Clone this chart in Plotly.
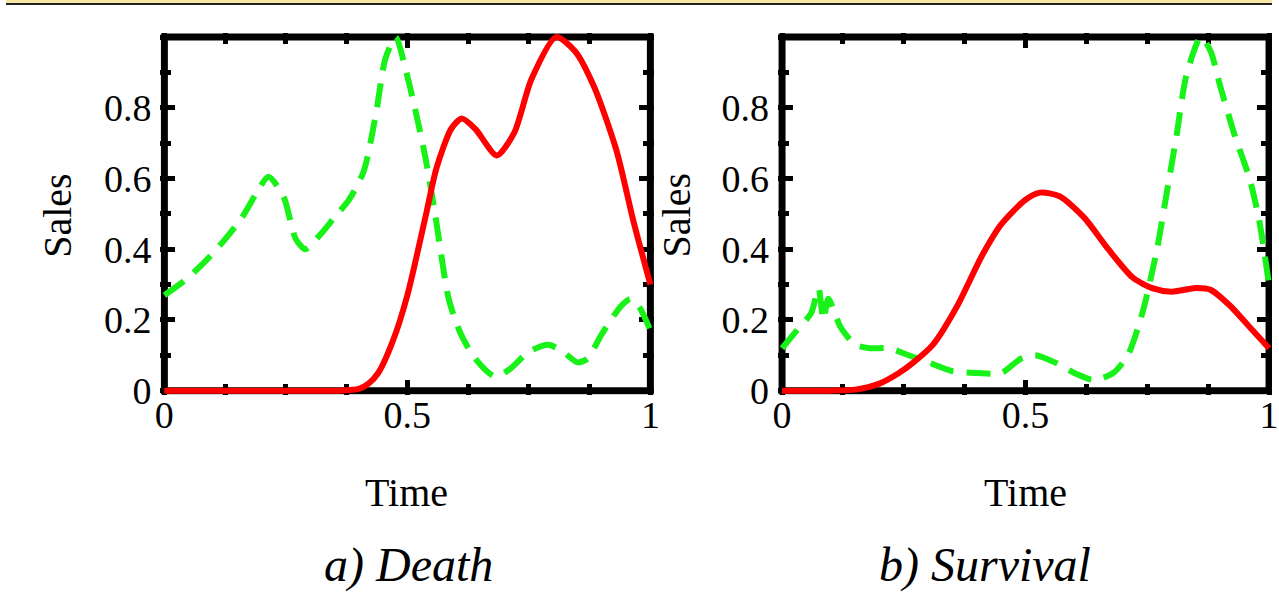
import plotly.graph_objects as go

# ---------------- data ----------------
death_red_x = [0, 0.1, 0.2, 0.3, 0.36, 0.40, 0.42, 0.44, 0.47, 0.50, 0.537, 0.56, 0.59, 0.612,
               0.64, 0.684, 0.72, 0.755, 0.806, 0.845, 0.884, 0.93, 0.965, 1.0]
death_red_y = [0, 0, 0, 0, 0, 0.005, 0.02, 0.05, 0.14, 0.27, 0.49, 0.63, 0.74, 0.77,
               0.74, 0.665, 0.73, 0.88, 1.0, 0.96, 0.86, 0.68, 0.48, 0.30]

death_green_x = [0, 0.04, 0.08, 0.12, 0.16, 0.19, 0.214, 0.245, 0.27, 0.29, 0.32, 0.35, 0.38,
                 0.41, 0.435, 0.455, 0.476, 0.497, 0.517, 0.537, 0.557, 0.585, 0.61, 0.64,
                 0.68, 0.71, 0.75, 0.79, 0.82, 0.85, 0.87, 0.90, 0.94, 0.96, 0.98, 1.0]
death_green_y = [0.27, 0.31, 0.36, 0.42, 0.49, 0.56, 0.605, 0.55, 0.43, 0.40, 0.44, 0.49, 0.54,
                 0.62, 0.78, 0.94, 1.0, 0.905, 0.79, 0.66, 0.50, 0.26, 0.16, 0.09,
                 0.04, 0.06, 0.11, 0.13, 0.11, 0.08, 0.09, 0.16, 0.24, 0.26, 0.23, 0.17]

surv_red_x = [0, 0.1, 0.15, 0.2, 0.24, 0.27, 0.31, 0.36, 0.41, 0.45, 0.5, 0.53, 0.57, 0.62,
              0.67, 0.72, 0.76, 0.8, 0.85, 0.88, 0.92, 0.96, 1.0]
surv_red_y = [0, 0, 0.003, 0.02, 0.05, 0.08, 0.13, 0.24, 0.38, 0.47, 0.54, 0.56, 0.55, 0.49,
              0.40, 0.32, 0.29, 0.28, 0.29, 0.285, 0.24, 0.18, 0.12]

surv_green_x = [0, 0.03, 0.06, 0.075, 0.085, 0.095, 0.12, 0.15, 0.18, 0.22, 0.26, 0.3, 0.35,
                0.4, 0.45, 0.49, 0.52, 0.56, 0.6, 0.64, 0.68, 0.71, 0.74, 0.77, 0.79, 0.81,
                0.83, 0.86, 0.88, 0.9, 0.93, 0.96, 0.98, 1.0]
surv_green_y = [0.12, 0.17, 0.22, 0.29, 0.20, 0.26, 0.18, 0.13, 0.12, 0.12, 0.10, 0.08, 0.055,
                0.05, 0.05, 0.09, 0.10, 0.08, 0.05, 0.03, 0.05, 0.10, 0.22, 0.40, 0.56, 0.72,
                0.89, 1.0, 0.96, 0.86, 0.72, 0.60, 0.48, 0.30]

x_tick_vals = [0, 0.5, 1]
x_tick_text = ["0", "0.5", "1"]
y_tick_vals = [0, 0.2, 0.4, 0.6, 0.8]
y_tick_text = ["0", "0.2", "0.4", "0.6", "0.8"]
panel_titles = ["a) Death", "b) Survival"]
x_title = "Time"
y_title = "Sales"

# ---------------- layout geometry (reference pixels) ----------------
W, H = 1279, 595          # reference frame used for positioning
FIG_H = 613               # rendered figure height
PAD = 4
panels = [dict(x0=160, x1=651), dict(x0=784, x1=1276)]
Y0, Y1 = 390, 37  # pixel rows for y=0 and y=1

RED = "#ff0000"
GREEN = "#18f218"
FONT = "Liberation Serif, Times New Roman, serif"

fig = go.Figure()

series = [
    (death_red_x, death_red_y, death_green_x, death_green_y),
    (surv_red_x, surv_red_y, surv_green_x, surv_green_y),
]

ypx = (Y0 - Y1)
ypad = PAD / ypx
ydom = [1 - (Y0 + PAD) / H, 1 - (Y1 - PAD) / H]

for i, (p, s) in enumerate(zip(panels, series)):
    xa = "x" if i == 0 else "x2"
    ya = "y" if i == 0 else "y2"
    xpx = p["x1"] - p["x0"]
    left = p["x0"] - PAD
    right = min(p["x1"] + PAD, W)
    xr = [-PAD / xpx, 1 + (right - p["x1"]) / xpx]
    axkey = "xaxis" if i == 0 else "xaxis2"
    aykey = "yaxis" if i == 0 else "yaxis2"

    fig.add_trace(go.Scatter(x=s[2], y=s[3], mode="lines", xaxis=xa, yaxis=ya,
                             line=dict(color=GREEN, width=6, dash="24px,13px",
                                       shape="spline", smoothing=0.7),
                             showlegend=False, hoverinfo="skip"))
    fig.add_trace(go.Scatter(x=s[0], y=s[1], mode="lines", xaxis=xa, yaxis=ya,
                             line=dict(color=RED, width=6, shape="spline", smoothing=0.7),
                             showlegend=False, hoverinfo="skip"))

    fig.update_layout({
        axkey: dict(domain=[left / W, right / W], range=xr, anchor=ya,
                    showgrid=False, zeroline=False, showline=False,
                    ticks="inside", ticklen=15, tickwidth=5, tickcolor="black",
                    mirror="ticks", layer="below traces",
                    tickvals=x_tick_vals, ticktext=x_tick_text,
                    tickfont=dict(family=FONT, size=38, color="black"),
                    ticklabelstandoff=-6, ticklabeloverflow="allow",
                    minor=dict(ticks="inside", ticklen=11, tickwidth=5, tickcolor="black",
                               dtick=0.125, tick0=0, showgrid=False),
                    fixedrange=True),
        aykey: dict(domain=ydom, range=[-ypad, 1 + ypad], anchor=xa,
                    showgrid=False, zeroline=False, showline=False,
                    ticks="inside", ticklen=15, tickwidth=5, tickcolor="black",
                    mirror="ticks", layer="below traces",
                    tickvals=y_tick_vals, ticktext=y_tick_text,
                    tickfont=dict(family=FONT, size=38, color="black"),
                    ticklabelstandoff=8,
                    minor=dict(ticks="inside", ticklen=11, tickwidth=5, tickcolor="black",
                               dtick=0.1, tick0=0, showgrid=False),
                    fixedrange=True),
    })

    fig.add_shape(type="rect", xref=xa, yref=ya, x0=0, x1=1, y0=0, y1=1,
                  line=dict(color="black", width=7), layer="below")

    fig.add_annotation(text=y_title, xref="paper", yref="paper",
                       x=(52 if i == 0 else 677) / W, y=1 - 215 / H, textangle=-90,
                       xanchor="center", yanchor="middle",
                       showarrow=False, font=dict(family=FONT, size=40, color="black"))
    fig.add_annotation(text=x_title, xref="paper", yref="paper",
                       x=(405 if i == 0 else 1030) / W, y=1 - 492 / H,
                       xanchor="center", yanchor="middle",
                       showarrow=False, font=dict(family=FONT, size=40, color="black"))
    fig.add_annotation(text="<i>" + panel_titles[i] + "</i>", xref="paper", yref="paper",
                       x=(407 if i == 0 else 989) / W, y=1 - 564 / H,
                       xanchor="center", yanchor="middle",
                       showarrow=False, font=dict(family=FONT, size=48, color="black"))

# top banner strip
fig.add_shape(type="rect", xref="paper", yref="paper", x0=0, x1=1, y0=1 - 3 / H, y1=1,
              fillcolor="#f7e6a0", line=dict(width=0), layer="above")
fig.add_shape(type="rect", xref="paper", yref="paper", x0=0, x1=1, y0=1 - 5 / H, y1=1 - 3 / H,
              fillcolor="#222222", line=dict(width=0), layer="above")

fig.update_layout(width=W, height=FIG_H, margin=dict(l=0, r=0, t=0, b=0),
                  paper_bgcolor="white", plot_bgcolor="white", showlegend=False)

fig.write_html("out.html", config={"displayModeBar": False},
               post_script="document.body.style.margin='0';document.body.style.overflow='hidden';")
